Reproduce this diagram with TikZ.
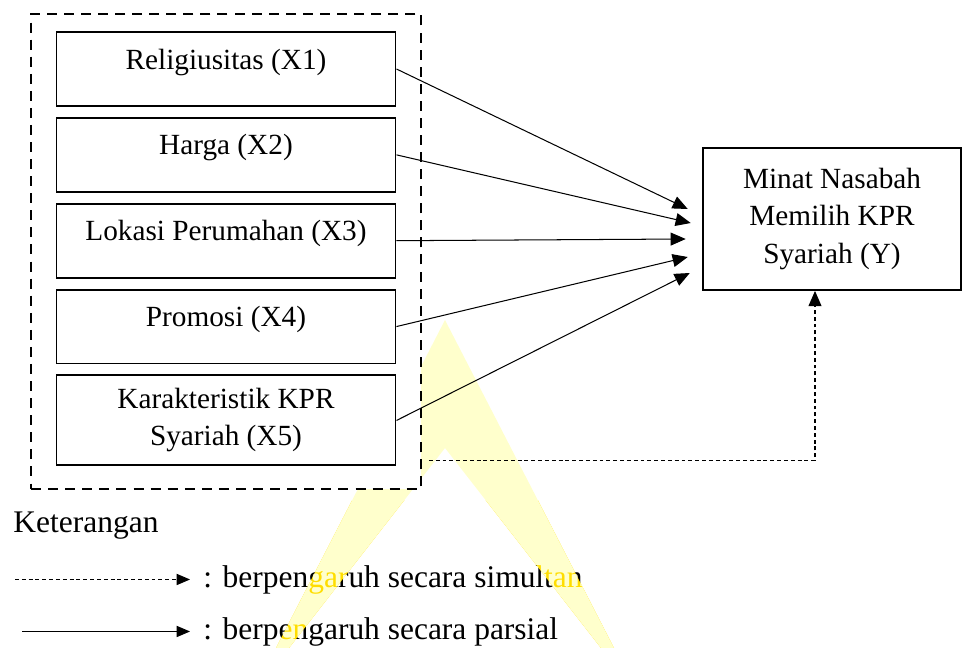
\documentclass[tikz,border=0pt]{standalone}
\usepackage{fontspec}
\setmainfont{Liberation Serif}
\usetikzlibrary{arrows.meta, positioning, fit, calc, backgrounds}
\definecolor{wmpale}{HTML}{FFFFCC}
\definecolor{wmgold}{HTML}{FFDD00}

\begin{document}
\begin{tikzpicture}[x=0.41pt, y=-0.41pt,
  node distance=4.1pt,
  font=\fontsize{12}{15.2}\selectfont,
  box/.style={draw, line width=0.8pt, align=center, inner sep=0pt,
              minimum width=139pt},
  varbox/.style={box, minimum height=30.3pt, text height=5pt, text depth=5pt},
  varbox2/.style={box, minimum height=36.9pt},
  depbox/.style={box, minimum width=106pt, minimum height=58.2pt},
  grpbox/.style={draw, fill=white, line width=0.8pt,
                 dash pattern=on 4.1pt off 2.9pt, inner xsep=10pt, inner ysep=8.2pt},
  legtext/.style={anchor=base west, inner sep=0pt, font=\fontsize{12.9}{15.5}\selectfont},
  arr/.style={-{Triangle[length=6.2pt, width=5.3pt]}, line width=0.42pt},
  simarr/.style={arr, dash pattern=on 1.6pt off 1.2pt},
  legarr/.style={-{Triangle[length=5.5pt, width=4.6pt]}, line width=0.42pt}]
\useasboundingbox (0,0) rectangle (963,648);

% variabel X dan Y
\node[varbox] (x1) at (226,69) {Religiusitas (X1)};
\node[varbox, below=of x1] (x2) {Harga (X2)};
\node[varbox, below=of x2] (x3) {Lokasi Perumahan (X3)};
\node[varbox, below=of x3] (x4) {Promosi (X4)};
\node[varbox2, below=of x4] (x5) {Karakteristik KPR\\ Syariah (X5)};
\node[depbox] (yv) at (832,219) {Minat Nasabah\\ Memilih KPR\\ Syariah (Y)};

% watermark + kotak putus-putus
\begin{scope}[on background layer]
\fill[wmpale] (445,320) -- (614,648) -- (601,648) -- (445,448) -- (289,648) -- (276,648) -- cycle;
\node[grpbox, fit=(x1) (x5), yshift=-1.2pt] (grp) {};
\end{scope}

% pengaruh parsial
\coordinate (t1) at ($(yv.west)+(-14,-10)$);
\coordinate (t2) at ($(yv.west)+(-11,4)$);
\coordinate (t3) at ($(yv.west)+(-16,20)$);
\coordinate (t4) at ($(yv.west)+(-14,38)$);
\coordinate (t5) at ($(yv.west)+(-12,54)$);
\draw[arr] (x1.east) -- (t1);
\draw[arr] (x2.east) -- (t2);
\draw[arr] (x3.east) -- (t3);
\draw[arr] (x4.east) -- (t4);
\draw[arr] (x5.east) -- (t5);

% pengaruh simultan
\coordinate (s0) at ($(grp.south east)+(7,-30)$);
\draw[simarr] (s0) -| ($(yv.south)+(-17,0)$);

% keterangan
\node[legtext] (ket) at (13,532) {Keterangan};
\node[legtext] (lsim) at (203,587) {: berpengaruh secara simultan};
\node[legtext] (lpar) at (203,639) {: berpengaruh secara parsial};
\coordinate (ls0) at ($(lsim.west)+(-188,0)$);
\coordinate (lp0) at ($(lpar.west)+(-181,0)$);
\draw[legarr, dash pattern=on 1.6pt off 1.2pt] (ls0) -- ($(lsim.west)+(-13,0)$);
\draw[legarr] (lp0) -- ($(lpar.west)+(-13,0)$);

% warna watermark di atas teks
\begin{scope}[blend mode=screen]
\clip (0,500) rectangle (963,648);
\fill[wmgold] (445,320) -- (614,648) -- (601,648) -- (445,448) -- (289,648) -- (276,648) -- cycle;
\end{scope}
\end{tikzpicture}
\end{document}
